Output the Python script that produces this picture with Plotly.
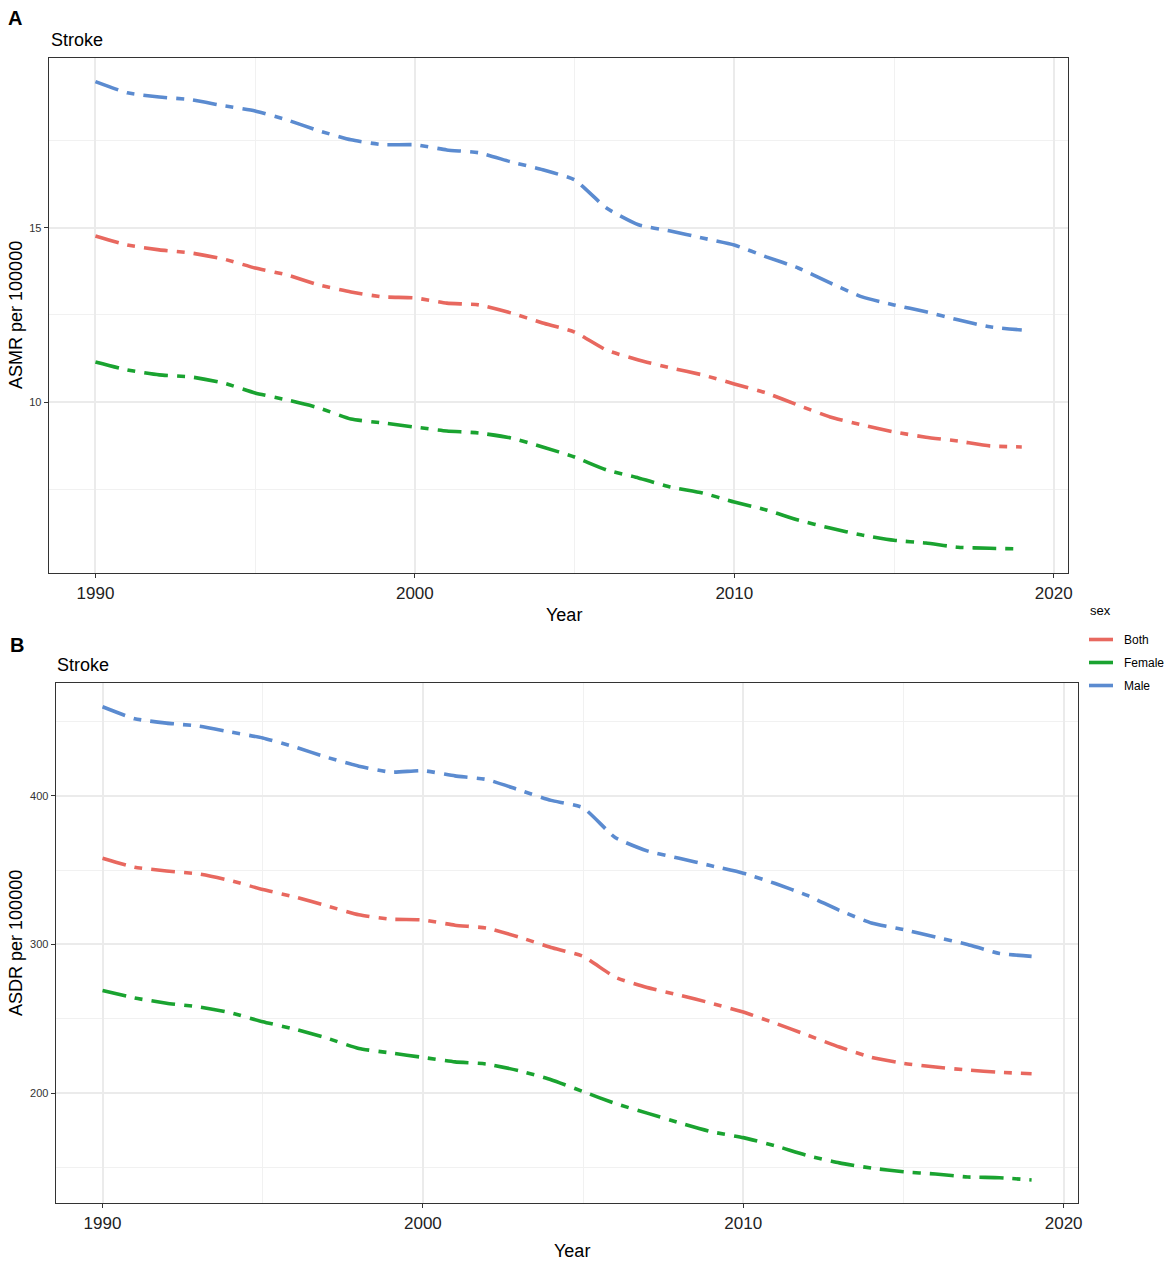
import plotly.graph_objects as go

years = list(range(1990, 2020))

# panel A: age-standardised mortality rate per 100000
asmr_both = [14.77, 14.51, 14.37, 14.28, 14.11, 13.85, 13.65, 13.36, 13.16, 13.02,
             12.99, 12.84, 12.79, 12.56, 12.27, 12.01, 11.49, 11.21, 10.98, 10.78,
             10.52, 10.26, 9.91, 9.57, 9.34, 9.14, 8.99, 8.88, 8.74, 8.71]
asmr_female = [11.15, 10.92, 10.78, 10.72, 10.55, 10.26, 10.06, 9.83, 9.51, 9.40,
               9.28, 9.17, 9.11, 8.97, 8.71, 8.42, 8.05, 7.82, 7.56, 7.39,
               7.13, 6.90, 6.61, 6.38, 6.18, 6.03, 5.95, 5.83, 5.80, 5.78]
asmr_male = [19.20, 18.88, 18.76, 18.68, 18.51, 18.36, 18.10, 17.79, 17.53, 17.39,
             17.39, 17.24, 17.16, 16.90, 16.67, 16.38, 15.57, 15.09, 14.91, 14.71,
             14.51, 14.17, 13.85, 13.42, 13.02, 12.79, 12.59, 12.36, 12.16, 12.07]

# panel B: age-standardised DALY rate per 100000
asdr_both = [358, 352, 349.5, 347.5, 343, 337, 332, 326, 320, 317,
             316.5, 313, 311, 305, 298, 292, 278, 271, 266, 260.5,
             254.5, 247, 239, 231, 224, 220, 217.5, 215.5, 214, 213]
asdr_female = [269, 264, 260.5, 258, 254, 248, 243, 237, 230, 227,
               224, 221, 219.5, 215, 209, 201, 193, 186.5, 180, 174,
               170, 164.5, 158, 153, 149.5, 147, 145.5, 143.5, 143, 141.5]
asdr_male = [460, 452, 449, 447, 443, 439, 433, 426, 420, 416,
             417, 413.5, 411, 404, 397, 392, 372, 363, 358, 353,
             348, 341, 333, 323, 314.5, 310, 305, 300, 294, 292]

sexes = ["Both", "Female", "Male"]
colors = {"Both": "#E8685F", "Female": "#1AA330", "Male": "#5B8BD0"}
dash = "24px,9px,8px,9px"

W, H = 1170, 1264

fig = go.Figure()

panel_a = {"Both": asmr_both, "Female": asmr_female, "Male": asmr_male}
panel_b = {"Both": asdr_both, "Female": asdr_female, "Male": asdr_male}

for s in sexes:
    fig.add_trace(go.Scatter(x=years, y=panel_a[s], mode="lines", name=s,
                             line=dict(color=colors[s], width=3.6, dash=dash, shape="spline", smoothing=0.5),
                             legendgroup=s, xaxis="x", yaxis="y"))
for s in sexes:
    fig.add_trace(go.Scatter(x=years, y=panel_b[s], mode="lines", name=s,
                             line=dict(color=colors[s], width=3.6, dash=dash, shape="spline", smoothing=0.5),
                             legendgroup=s, showlegend=False, xaxis="x2", yaxis="y2"))

axis_common = dict(
    showline=True, mirror=True, linecolor="#333333", linewidth=1.3,
    ticks="outside", ticklen=4, tickcolor="#333333", tickwidth=1.3,
    showgrid=True, gridcolor="#EBEBEB", gridwidth=1.5,
    zeroline=False,
)

def xaxis(domain, anchor):
    return dict(axis_common, domain=domain, anchor=anchor,
                range=[1988.54, 2020.46], dtick=10, tick0=1990,
                tickfont=dict(size=17, color="#222222"),
                minor=dict(dtick=5, tick0=1995, showgrid=True, gridcolor="#F1F1F1", gridwidth=1, ticks=""))

def yaxis(domain, anchor, rng, dt, mdt):
    return dict(axis_common, domain=domain, anchor=anchor, range=rng, dtick=dt,
                tickfont=dict(size=11, color="#333333"),
                minor=dict(dtick=mdt, showgrid=True, gridcolor="#F1F1F1", gridwidth=1, ticks=""))

def px_x(p):
    return p / W

def px_y(p):
    return 1 - p / H

fig.update_layout(
    width=W, height=H,
    margin=dict(l=0, r=0, t=0, b=0),
    paper_bgcolor="white", plot_bgcolor="white",
    font=dict(family="Liberation Sans, Arial, sans-serif", color="#000000"),
    xaxis=xaxis([px_x(49), px_x(1073)], "y"),
    yaxis=yaxis([px_y(573), px_y(58)], "x", [5.09, 19.88], 5, 2.5),
    xaxis2=xaxis([px_x(56), px_x(1083)], "y2"),
    yaxis2=yaxis([px_y(1203), px_y(683)], "x2", [126, 476], 100, 50),
    legend=dict(x=px_x(1089), y=px_y(625), xanchor="left", yanchor="top",
                font=dict(size=12), itemwidth=30, tracegroupgap=4,
                bgcolor="rgba(0,0,0,0)"),
    showlegend=True,
)

annots = [
    dict(text="<b>A</b>", x=6, y=18, size=20, xa="left"),
    dict(text="Stroke", x=49, y=40, size=18, xa="left"),
    dict(text="<b>B</b>", x=8, y=645, size=20, xa="left"),
    dict(text="Stroke", x=55, y=665, size=18, xa="left"),
    dict(text="Year", x=566, y=615, size=18, xa="center"),
    dict(text="Year", x=574, y=1251, size=18, xa="center"),
    dict(text="sex", x=1093, y=610, size=13, xa="left"),
]
for a in annots:
    fig.add_annotation(text=a["text"], x=px_x(a["x"]), y=px_y(a["y"]), xref="paper", yref="paper",
                       xanchor=a["xa"], yanchor="middle", showarrow=False,
                       font=dict(size=a["size"], color="#000000"))

fig.add_annotation(text="ASMR per 100000", x=px_x(16), y=px_y(315), xref="paper", yref="paper",
                   xanchor="center", yanchor="middle",
                   showarrow=False, textangle=-90, font=dict(size=18))
fig.add_annotation(text="ASDR per 100000", x=px_x(16), y=px_y(943), xref="paper", yref="paper",
                   xanchor="center", yanchor="middle",
                   showarrow=False, textangle=-90, font=dict(size=18))

fig.write_html("out.html", config={"displayModeBar": False},
               post_script="document.body.style.margin='0';")
